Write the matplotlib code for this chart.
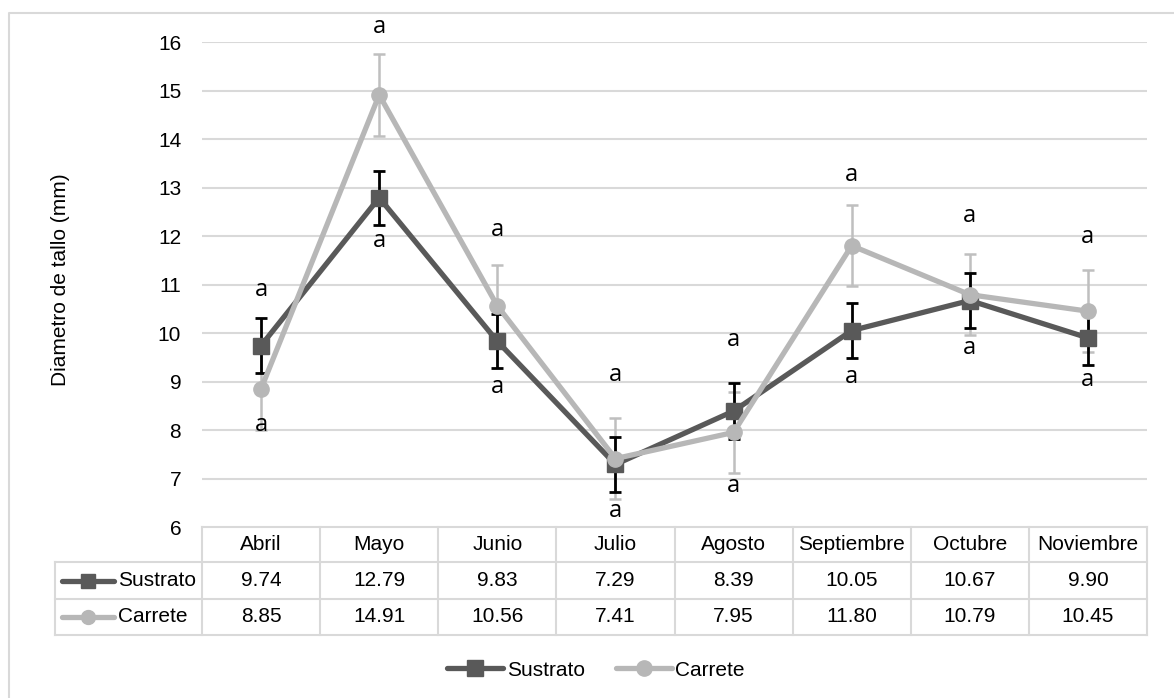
import matplotlib
matplotlib.use("Agg")
import matplotlib.pyplot as plt
from matplotlib.lines import Line2D
from matplotlib import font_manager

# ---- data ----
months = ["Abril", "Mayo", "Junio", "Julio", "Agosto", "Septiembre", "Octubre", "Noviembre"]
sustrato = [9.74, 12.79, 9.83, 7.29, 8.39, 10.05, 10.67, 9.90]
carrete = [8.85, 14.91, 10.56, 7.41, 7.95, 11.80, 10.79, 10.45]
sustrato_err = [0.56, 0.56, 0.56, 0.56, 0.57, 0.57, 0.57, 0.56]
carrete_err = [0.84, 0.84, 0.84, 0.84, 0.84, 0.84, 0.84, 0.84]
sustrato_letters = ["a"] * 8
carrete_letters = ["a"] * 8
y_ticks = [6, 7, 8, 9, 10, 11, 12, 13, 14, 15, 16]
y_label = "Diametro de tallo (mm)"

# heights (data units) where the significance letters sit
sustrato_letter_y = [10.89, 11.90, 8.89, 6.33, 9.86, 9.09, 9.69, 9.03]
carrete_letter_y = [8.10, 16.31, 12.12, 9.13, 6.85, 13.26, 12.41, 11.98]

# ---- style ----
avail = {f.name for f in font_manager.fontManager.ttflist}
narrow = "Liberation Sans Narrow" if "Liberation Sans Narrow" in avail else "Liberation Sans"
plt.rcParams["font.family"] = [narrow, "DejaVu Sans"]
letter_font = ["Open Sans", "DejaVu Sans"]

DARK = "#595959"
LIGHT = "#B7B7B7"
GRID = "#D9D9D9"
FS = 15

W, H = 1174, 698
fig = plt.figure(figsize=(W / 100, H / 100), dpi=100)


def fx(px):
    return px / W


def fy(py):
    return 1 - py / H


# plot area
left, right, top, bottom = 202, 1147, 42, 527
ax = fig.add_axes([fx(left), fy(bottom), fx(right) - fx(left), fy(top) - fy(bottom)])
ax.set_xlim(-0.5, len(months) - 0.5)
ax.set_ylim(6, 16)
for s in ax.spines.values():
    s.set_visible(False)
ax.set_xticks([])
ax.set_yticks(y_ticks)
ax.set_yticklabels([str(t) for t in y_ticks], fontsize=FS)
ax.tick_params(axis="y", length=0, pad=15)
for t in y_ticks[1:]:
    ax.axhline(t, color=GRID, lw=1.5, zorder=0)

x = list(range(len(months)))

# error bars
ax.errorbar(x, carrete, yerr=carrete_err, fmt="none", ecolor="#BFBFBF",
            elinewidth=1.8, capsize=4.5, capthick=1.8, zorder=2)
ax.errorbar(x, sustrato, yerr=sustrato_err, fmt="none", ecolor="black",
            elinewidth=2.0, capsize=4.5, capthick=2.0, zorder=3)

# lines
ax.plot(x, sustrato, color=DARK, lw=3.8, marker="s", markersize=11,
        markerfacecolor=DARK, markeredgecolor=DARK, zorder=4, label="Sustrato",
        solid_capstyle="round")
ax.plot(x, carrete, color=LIGHT, lw=3.8, marker="o", markersize=11,
        markerfacecolor=LIGHT, markeredgecolor=LIGHT, zorder=5, label="Carrete",
        solid_capstyle="round")

# significance letters
for xi, yv, t in zip(x, sustrato_letter_y, sustrato_letters):
    ax.text(xi, yv, t, ha="center", va="center", fontsize=17,
            family=letter_font, color="black", zorder=6, clip_on=False)
for xi, yv, t in zip(x, carrete_letter_y, carrete_letters):
    ax.text(xi, yv, t, ha="center", va="center", fontsize=17,
            family=letter_font, color="black", zorder=6, clip_on=False)

# y-axis title
fig.text(fx(61), fy(280), y_label, rotation=90, ha="center", va="center", fontsize=FS)

# ---- data table under the plot ----
tbl_left = 55
col_w = (right - left) / len(months)
rows_y = [527, 562, 599, 635]


def hline(x0, x1, y):
    fig.add_artist(Line2D([fx(x0), fx(x1)], [fy(y), fy(y)], color=GRID, lw=1.5,
                          transform=fig.transFigure))


def vline(xp, y0, y1):
    fig.add_artist(Line2D([fx(xp), fx(xp)], [fy(y0), fy(y1)], color=GRID, lw=1.5,
                          transform=fig.transFigure))


hline(left, right, rows_y[0])
for yv in rows_y[1:]:
    hline(tbl_left, right, yv)
vline(tbl_left, rows_y[1], rows_y[3])
for i in range(len(months) + 1):
    vline(left + i * col_w, rows_y[0], rows_y[3])

for i, m in enumerate(months):
    cx = fx(left + (i + 0.5) * col_w)
    fig.text(cx, fy((rows_y[0] + rows_y[1]) / 2), m, ha="center", va="center", fontsize=FS)
    fig.text(cx, fy((rows_y[1] + rows_y[2]) / 2), f"{sustrato[i]:.2f}", ha="center",
             va="center", fontsize=FS)
    fig.text(cx, fy((rows_y[2] + rows_y[3]) / 2), f"{carrete[i]:.2f}", ha="center",
             va="center", fontsize=FS)

# row headers with series keys
for (name, col, mk), (y0, y1) in zip(
        [("Sustrato", DARK, "s"), ("Carrete", LIGHT, "o")],
        [(rows_y[1], rows_y[2]), (rows_y[2], rows_y[3])]):
    yc = fy((y0 + y1) / 2)
    fig.add_artist(Line2D([fx(62), fx(114)], [yc, yc], color=col, lw=3.8,
                          solid_capstyle="round", transform=fig.transFigure))
    fig.add_artist(Line2D([fx(88)], [yc], color=col, marker=mk, markersize=10,
                          transform=fig.transFigure))
    fig.text(fx(118), yc, name, ha="left", va="center", fontsize=FS)

# legend
fig.legend(loc="center", bbox_to_anchor=(fx(596), fy(670)), ncol=2, frameon=False,
           fontsize=FS, handlelength=2.7, handletextpad=0.15, columnspacing=1.5)

# chart border
fig.add_artist(Line2D([fx(9), fx(9), fx(W + 5)], [fy(H + 5), fy(13), fy(13)],
                      color=GRID, lw=1.5, transform=fig.transFigure))

fig.savefig("out.png", dpi=100)
